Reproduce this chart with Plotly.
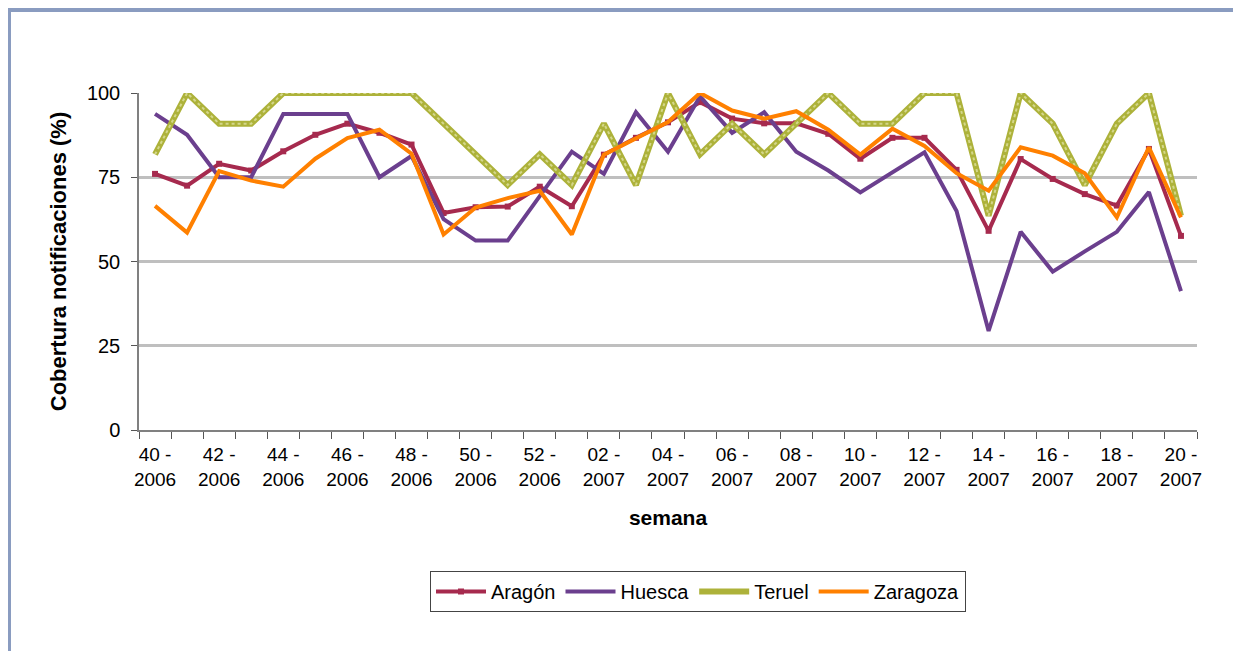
import plotly.graph_objects as go

weeks = ["40 - 2006", "41 - 2006", "42 - 2006", "43 - 2006", "44 - 2006", "45 - 2006",
         "46 - 2006", "47 - 2006", "48 - 2006", "49 - 2006", "50 - 2006", "51 - 2006",
         "52 - 2006", "01 - 2007", "02 - 2007", "03 - 2007", "04 - 2007", "05 - 2007",
         "06 - 2007", "07 - 2007", "08 - 2007", "09 - 2007", "10 - 2007", "11 - 2007",
         "12 - 2007", "13 - 2007", "14 - 2007", "15 - 2007", "16 - 2007", "17 - 2007",
         "18 - 2007", "19 - 2007", "20 - 2007"]

aragon = [76, 72.5, 79, 77, 82.7, 87.6, 90.9, 88.2, 84.7, 64.4, 66.1, 66.3, 72.2, 66.4,
          81.7, 86.7, 91.3, 97.3, 92.4, 91, 91, 87.9, 80.5, 86.7, 86.7, 77.2, 59.1, 80.4,
          74.5, 70, 66.6, 83.4, 57.6]
huesca = [93.8, 87.6, 75, 75, 93.8, 93.8, 93.8, 75, 81.3, 62.6, 56.2, 56.2, 69.5, 82.6,
          76, 94.3, 82.6, 99, 88.2, 94.3, 82.6, 77, 70.5, 76.5, 82.4, 65, 29.4, 58.8,
          47, 53, 58.8, 70.6, 41.2]
teruel = [81.8, 100, 90.9, 90.9, 100, 100, 100, 100, 100, 90.9, 81.8, 72.7, 81.8, 72.7,
          90.9, 72.7, 100, 81.8, 90.9, 81.8, 90.9, 100, 90.9, 90.9, 100, 100, 63.6, 100,
          90.9, 72.7, 90.9, 100, 63.6]
zaragoza = [66.5, 58.6, 76.8, 74, 72.2, 80.5, 86.6, 89.1, 82, 58, 66, 68.8, 71, 58,
            81.7, 86.7, 91.4, 100, 94.8, 92.4, 94.6, 89.1, 81.7, 89.4, 84.3, 76.2, 71,
            83.9, 81.4, 76.2, 63.1, 83.9, 63.1]

y_ticks = [0, 25, 50, 75, 100]

FONT = "Liberation Sans, Arial, sans-serif"
idx = list(range(len(weeks)))
tick_idx = idx[::2]
tick_text = [weeks[i].replace(" - ", " -<br>") for i in tick_idx]

# page has an 8px body margin; plot area in page coords: x 139..1197, y 93..430
OFF = 8
PX0, PX1, PY0, PY1 = 139, 1197, 93, 430
W, H = 1241 - OFF, 651 - OFF
PW, PH = PX1 - PX0, PY1 - PY0


def px(x):
    return (x - PX0) / PW


def py(y):
    return (PY1 - y) / PH


fig = go.Figure()
fig.add_trace(go.Scatter(x=idx, y=aragon, name="Aragón", mode="lines+markers",
                         line=dict(color="#A62A4E", width=4),
                         marker=dict(symbol="square", size=6, color="#A62A4E"),
                         cliponaxis=False))
fig.add_trace(go.Scatter(x=idx, y=huesca, name="Huesca", mode="lines",
                         line=dict(color="#6B3F8E", width=4), cliponaxis=False))
fig.add_trace(go.Scatter(x=idx, y=teruel, name="Teruel", mode="lines",
                         line=dict(color="#ADB23A", width=6), cliponaxis=False))
fig.add_trace(go.Scatter(x=idx, y=teruel, name="Teruel", mode="lines", showlegend=False,
                         hoverinfo="skip",
                         line=dict(color="#D4D78A", width=2, dash="dot"), cliponaxis=False))
fig.add_trace(go.Scatter(x=idx, y=zaragoza, name="Zaragoza", mode="lines",
                         line=dict(color="#FF8000", width=4), cliponaxis=False))

fig.update_layout(
    width=W, height=H,
    margin=dict(l=PX0 - OFF, r=W - (PX1 - OFF), t=PY0 - OFF, b=H - (PY1 - OFF)),
    paper_bgcolor="white", plot_bgcolor="white",
    font=dict(family=FONT, size=19, color="black"),
    showlegend=True,
    legend=dict(orientation="h", x=px(698), xanchor="center", y=py(571), yanchor="top",
                bordercolor="#444444", borderwidth=1, font=dict(size=20),
                itemwidth=50, tracegroupgap=0),
    xaxis=dict(range=[-0.5, len(weeks) - 0.5], tickmode="array", tickvals=tick_idx,
               ticktext=tick_text, ticks="", showgrid=False, zeroline=False,
               showline=True, linecolor="#808080", linewidth=2,
               tickfont=dict(size=19), ticklabelstandoff=6,
               minor=dict(tick0=-0.5, dtick=1, ticks="outside", ticklen=7,
                          tickcolor="#555555", tickwidth=1, showgrid=False),
               title=dict(text="<b>semana</b>", font=dict(size=21), standoff=22)),
    yaxis=dict(range=[0, 100], tickmode="array", tickvals=y_ticks,
               ticks="outside", ticklen=6, tickcolor="#555555",
               showgrid=True, gridcolor="#BFBFBF", gridwidth=3, zeroline=False,
               showline=True, linecolor="#808080", linewidth=1.5,
               tickfont=dict(size=20), ticklabelstandoff=7,
               title=dict(text="<b>Cobertura notificaciones (%)</b>", font=dict(size=22),
                          standoff=14)),
    shapes=[dict(type="rect", xref="paper", yref="paper",
                 x0=px(9), x1=px(1235), y0=py(700), y1=py(10),
                 line=dict(color="#8A9CC0", width=4), fillcolor="rgba(0,0,0,0)",
                 layer="below")],
)

fig.write_html("out.html")
